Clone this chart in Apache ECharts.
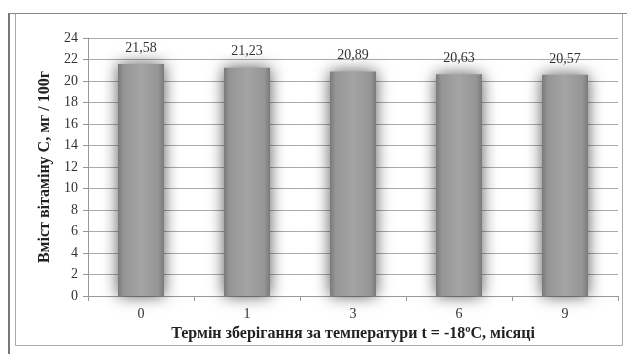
<!DOCTYPE html>
<html><head><meta charset="utf-8">
<script src="https://cdn.jsdelivr.net/npm/echarts@6/dist/echarts.min.js"></script>
<style>html,body{margin:0;padding:0;background:#fff}#c{width:627px;height:354px}</style>
</head><body><div id="c"></div>
<script>
const categories = ['0', '1', '3', '6', '9'];
const values = [21.58, 21.23, 20.89, 20.63, 20.57];
const yTicks = [0, 2, 4, 6, 8, 10, 12, 14, 16, 18, 20, 22, 24];
const xTitle = 'Термін зберігання за температури t = -18ºC, місяці';
const yTitle = 'Вміст вітаміну С, мг / 100г';

const serif = '"Liberation Serif", "Times New Roman", serif';
const chart = echarts.init(document.getElementById('c'), null, {renderer: 'canvas'});
chart.setOption({
  animation: false,
  backgroundColor: '#fff',
  grid: {left: 88, right: 9, top: 38, bottom: 58},
  graphic: [
    {type: 'rect', shape: {x: 15.5, y: 13.5, width: 607, height: 332}, style: {fill: 'none', stroke: '#aaa', lineWidth: 1}},
    {type: 'line', shape: {x1: 9, y1: 13, x2: 9, y2: 354}, style: {stroke: '#777', lineWidth: 2}},
    {type: 'line', shape: {x1: 9, y1: 13.5, x2: 627, y2: 13.5}, style: {stroke: '#888', lineWidth: 1}}
  ],
  xAxis: {
    type: 'category', data: categories,
    name: xTitle, nameLocation: 'middle', nameGap: 29,
    nameTextStyle: {fontFamily: serif, fontWeight: 'bold', fontSize: 16, color: '#222'},
    axisLine: {lineStyle: {color: '#999'}},
    axisTick: {show: true, length: 5, lineStyle: {color: '#999'}},
    axisLabel: {fontFamily: serif, fontSize: 14, color: '#333', margin: 11}
  },
  yAxis: {
    type: 'value', min: yTicks[0], max: yTicks[yTicks.length - 1], interval: 2,
    name: yTitle, nameLocation: 'middle', nameGap: 33, nameRotate: 90,
    nameTextStyle: {fontFamily: serif, fontWeight: 'bold', fontSize: 16, color: '#222'},
    axisLine: {show: true, lineStyle: {color: '#999'}},
    axisTick: {show: true, length: 5, lineStyle: {color: '#999'}},
    axisLabel: {fontFamily: serif, fontSize: 14, color: '#333', margin: 10},
    splitLine: {lineStyle: {color: '#aaa', width: 1}}
  },
  series: [{
    type: 'bar', data: values, barWidth: 46,
    itemStyle: {
      color: new echarts.graphic.LinearGradient(0, 0, 1, 0, [
        {offset: 0, color: '#7a7a7a'},
        {offset: 0.12, color: '#959595'},
        {offset: 0.5, color: '#a4a4a4'},
        {offset: 0.88, color: '#959595'},
        {offset: 1, color: '#7a7a7a'}
      ]),
      shadowBlur: 16, shadowColor: 'rgba(0,0,0,0.65)'
    },
    label: {
      show: true, position: 'top', distance: 9,
      fontFamily: serif, fontSize: 14, color: '#333',
      formatter: p => p.value.toFixed(2).replace('.', ',')
    }
  }]
});
</script></body></html>
